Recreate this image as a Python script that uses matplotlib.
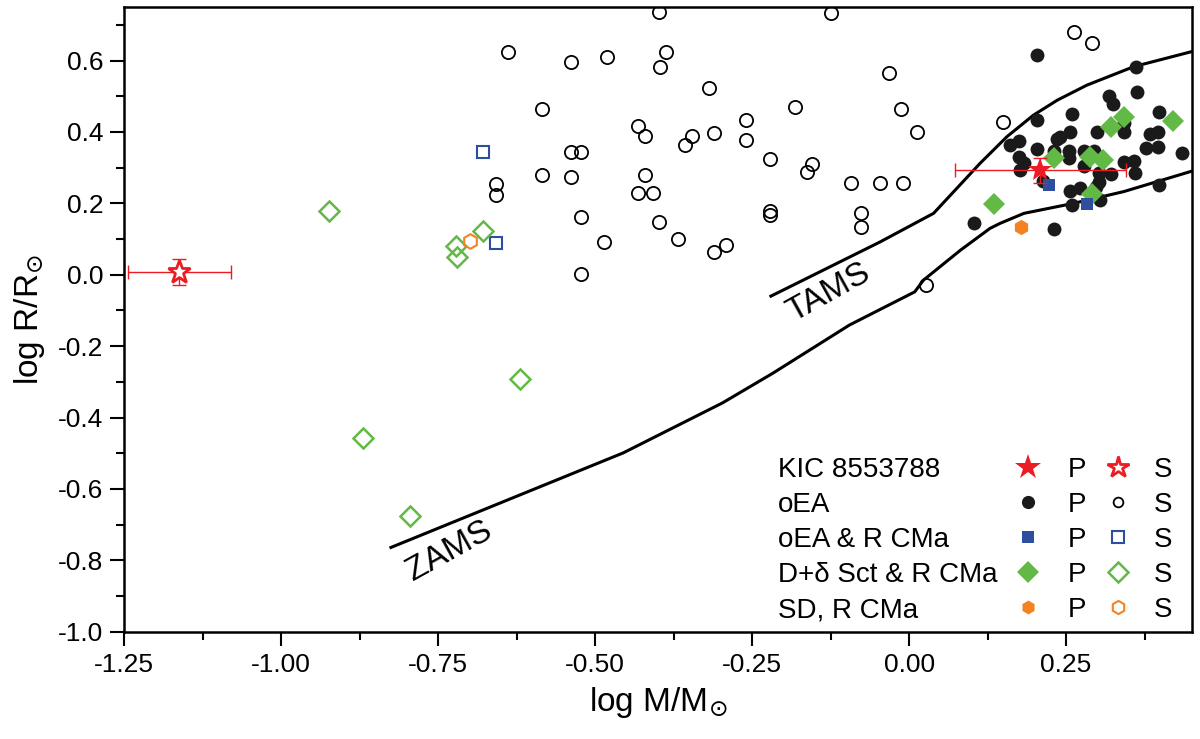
import numpy as np
import matplotlib
matplotlib.use("Agg")
import matplotlib.pyplot as plt
from matplotlib.ticker import MultipleLocator, FixedLocator

plt.rcParams['font.family'] = ['Liberation Sans', 'DejaVu Sans']
plt.rcParams['axes.unicode_minus'] = False

# --- donnees (log M, log R) ---
# KIC 8553788
kic_p_m, kic_p_r = [0.209], [0.293]
kic_p_xerr, kic_p_yerr = [0.136], [0.035]
kic_s_m, kic_s_r = [-1.162], [0.008]
kic_s_xerr, kic_s_yerr = [0.082], [0.037]

# oEA primaires (P)
oea_p_m = [0.204, 0.362, 0.104, 0.318, 0.325, 0.363, 0.260, 0.204, 0.398, 0.342,
           0.342, 0.300, 0.256, 0.241, 0.236, 0.384, 0.396, 0.175, 0.161, 0.204,
           0.230, 0.255, 0.255, 0.278, 0.295, 0.378, 0.396, 0.434, 0.175, 0.183,
           0.176, 0.278, 0.302, 0.321, 0.342, 0.358, 0.359, 0.302, 0.214, 0.256,
           0.272, 0.298, 0.398, 0.260, 0.304, 0.230]
oea_p_r = [0.615, 0.583, 0.146, 0.501, 0.478, 0.513, 0.450, 0.433, 0.457, 0.424,
           0.401, 0.401, 0.401, 0.387, 0.379, 0.394, 0.401, 0.375, 0.363, 0.351,
           0.347, 0.347, 0.326, 0.347, 0.347, 0.354, 0.359, 0.340, 0.331, 0.312,
           0.293, 0.305, 0.284, 0.282, 0.317, 0.319, 0.284, 0.261, 0.263, 0.235,
           0.242, 0.247, 0.251, 0.195, 0.209, 0.127]

# oEA secondaires (S)
oea_s_m = [-0.398, -0.125, -0.638, -0.538, -0.481, -0.387, -0.397, -0.032, -0.319, -0.584,
           -0.181, -0.432, -0.420, -0.346, -0.356, -0.310, -0.260, -0.260, -0.538, -0.522,
           -0.222, -0.155, -0.162, -0.584, -0.538, -0.420, -0.657, -0.657, -0.432, -0.408,
           -0.092, -0.046, -0.010, -0.222, -0.222, -0.076, -0.076, -0.523, -0.398, -0.485,
           -0.368, -0.292, -0.310, -0.523, -0.013, 0.013, 0.150, 0.263, 0.292, 0.027]
oea_s_r = [0.735, 0.732, 0.625, 0.595, 0.609, 0.625, 0.581, 0.566, 0.524, 0.464,
           0.469, 0.417, 0.389, 0.389, 0.363, 0.396, 0.433, 0.377, 0.344, 0.344,
           0.324, 0.310, 0.288, 0.280, 0.274, 0.280, 0.255, 0.222, 0.228, 0.228,
           0.257, 0.257, 0.257, 0.179, 0.166, 0.172, 0.134, 0.161, 0.148, 0.092,
           0.101, 0.084, 0.063, 0.002, 0.464, 0.400, 0.427, 0.679, 0.650, -0.029]

# oEA & R CMa
rcma_p_m, rcma_p_r = [0.222, 0.284], [0.251, 0.198]
rcma_s_m, rcma_s_r = [-0.678, -0.657], [0.343, 0.088]

# D+delta Sct & R CMa
dsct_p_m = [0.342, 0.322, 0.421, 0.231, 0.288, 0.309, 0.291, 0.136]
dsct_p_r = [0.443, 0.415, 0.431, 0.326, 0.331, 0.321, 0.226, 0.198]
dsct_s_m = [-0.924, -0.721, -0.719, -0.678, -0.620, -0.869, -0.795]
dsct_s_r = [0.178, 0.081, 0.050, 0.123, -0.293, -0.457, -0.676]

# SD, R CMa
sd_p_m, sd_p_r = [0.179], [0.135]
sd_s_m, sd_s_r = [-0.699], [0.094]

# ZAMS / TAMS
zams_m = [-0.825, -0.455, -0.297, -0.217, -0.095, 0.009, 0.023, 0.082, 0.129, 0.145,
          0.183, 0.262, 0.342, 0.45]
zams_r = [-0.764, -0.499, -0.359, -0.276, -0.141, -0.048, -0.015, 0.069, 0.130, 0.144,
          0.172, 0.200, 0.233, 0.290]
tams_m = [-0.220, -0.046, 0.039, 0.113, 0.156, 0.198, 0.236, 0.283, 0.358, 0.45]
tams_r = [-0.060, 0.092, 0.172, 0.312, 0.387, 0.447, 0.489, 0.531, 0.583, 0.625]

x_ticks = [-1.25, -1.00, -0.75, -0.50, -0.25, 0.00, 0.25]
y_ticks = [-1.0, -0.8, -0.6, -0.4, -0.2, 0.0, 0.2, 0.4, 0.6]

rouge = '#ED1C24'
bleu = '#2E4EA0'
vert = '#62B946'
orange = '#F58220'

fig = plt.figure(figsize=(12, 7.39), dpi=100)
ax = fig.add_axes([124 / 1200, 1 - 631.7 / 739, 1067.7 / 1200, 624.7 / 739])

ax.plot(zams_m, zams_r, color='black', lw=2.2, zorder=2)
ax.plot(tams_m, tams_r, color='black', lw=2.2, zorder=2)
ax.text(-0.732, -0.773, 'ZAMS', rotation=29, fontsize=24, ha='center', va='center')
ax.text(-0.128, -0.050, 'TAMS', rotation=29, fontsize=24, ha='center', va='center')

ax.plot(oea_s_m, oea_s_r, 'o', ms=9.5, mfc='none', mec='black', mew=1.3, zorder=3)
ax.plot(rcma_s_m, rcma_s_r, 's', ms=8.5, mfc='none', mec=bleu, mew=1.5, zorder=3)
ax.plot(dsct_s_m, dsct_s_r, 'D', ms=10, mfc='none', mec=vert, mew=1.8, zorder=3)
ax.plot(sd_s_m, sd_s_r, 'h', ms=10.5, mfc='none', mec=orange, mew=1.5, zorder=3)

ax.plot(oea_p_m, oea_p_r, 'o', ms=10, color='#1a1a1a', mew=0, zorder=4)
ax.plot(dsct_p_m, dsct_p_r, 'D', ms=11, color=vert, mew=0, zorder=5)
ax.plot(rcma_p_m, rcma_p_r, 's', ms=8.5, color=bleu, mew=0, zorder=6)
ax.plot(sd_p_m, sd_p_r, 'h', ms=11, color=orange, mew=0, zorder=6)

ax.errorbar(kic_p_m, kic_p_r, xerr=kic_p_xerr, yerr=kic_p_yerr, fmt='none',
            ecolor=rouge, elinewidth=1, capsize=5, capthick=1, zorder=7)
ax.plot(kic_p_m, kic_p_r, '*', ms=18, color=rouge, mew=0, zorder=8)
ax.errorbar(kic_s_m, kic_s_r, xerr=kic_s_xerr, yerr=kic_s_yerr, fmt='none',
            ecolor=rouge, elinewidth=1, capsize=5, capthick=1, zorder=7)
ax.plot(kic_s_m, kic_s_r, '*', ms=17, mfc='white', mec=rouge, mew=2, zorder=8)

# legende faite a la main
lignes = [
    ('KIC 8553788', dict(marker='*', ms=19, color=rouge, mew=0),
     dict(marker='*', ms=16, mfc='white', mec=rouge, mew=2)),
    ('oEA', dict(marker='o', ms=9.5, color='#1a1a1a', mew=0),
     dict(marker='o', ms=7, mfc='none', mec='black', mew=1.3)),
    ('oEA & R CMa', dict(marker='s', ms=9, color=bleu, mew=0),
     dict(marker='s', ms=8, mfc='none', mec=bleu, mew=1.5)),
    ('D+δ Sct & R CMa', dict(marker='D', ms=11, color=vert, mew=0),
     dict(marker='D', ms=10, mfc='none', mec=vert, mew=1.8)),
    ('SD, R CMa', dict(marker='h', ms=10, color=orange, mew=0),
     dict(marker='h', ms=9.5, mfc='none', mec=orange, mew=1.5)),
]
for i, (nom, style_p, style_s) in enumerate(lignes):
    yb = 0.2472 - i * 0.05603
    ym = 0.2632 - i * 0.05603
    ax.text(0.6128, yb, nom, transform=ax.transAxes, fontsize=20, va='baseline', ha='left')
    ax.plot([0.847], [ym], transform=ax.transAxes, clip_on=False, ls='none', **style_p)
    ax.text(0.8923, yb, 'P', transform=ax.transAxes, fontsize=20, va='baseline', ha='center')
    ax.plot([0.9313], [ym], transform=ax.transAxes, clip_on=False, ls='none', **style_s)
    ax.text(0.9731, yb, 'S', transform=ax.transAxes, fontsize=20, va='baseline', ha='center')

ax.set_xlim(-1.25, 0.45)
ax.set_ylim(-1.0, 0.75)
ax.xaxis.set_major_locator(FixedLocator(x_ticks))
ax.set_xticklabels(['%.2f' % v for v in x_ticks])
ax.xaxis.set_minor_locator(MultipleLocator(0.125))
ax.yaxis.set_major_locator(FixedLocator(y_ticks))
ax.set_yticklabels(['%.1f' % v for v in y_ticks])
ax.yaxis.set_minor_locator(MultipleLocator(0.1))

ax.tick_params(which='major', direction='out', length=10, width=1.5, labelsize=19, pad=5)
ax.tick_params(which='minor', direction='out', length=6, width=1.5)
ax.tick_params(top=False, right=False)
for s in ax.spines.values():
    s.set_linewidth(1.8)

ax.set_xlabel(r'log M/M$_{\odot}$', fontsize=24, labelpad=6)
ax.set_ylabel(r'log R/R$_{\odot}$', fontsize=24, labelpad=8)

fig.savefig('out.png', dpi=100)
